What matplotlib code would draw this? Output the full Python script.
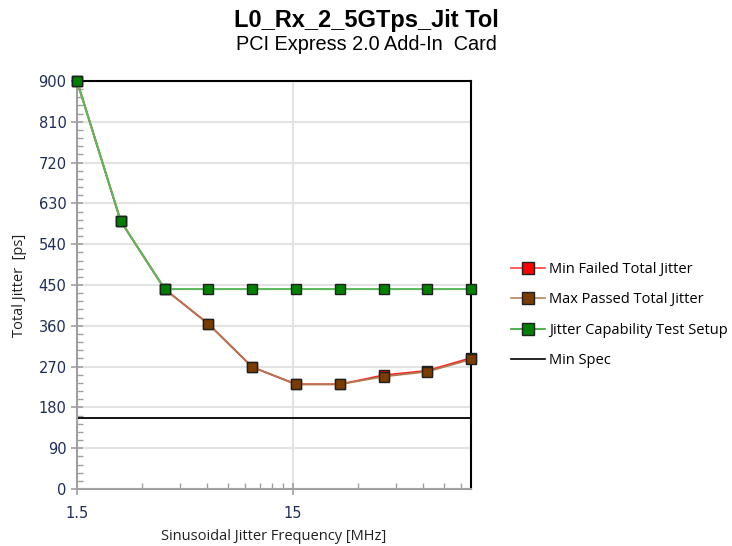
import matplotlib
matplotlib.use("Agg")
import matplotlib.pyplot as plt
from matplotlib.ticker import FixedLocator, NullFormatter, FixedFormatter
from matplotlib.lines import Line2D

freq = [1.5, 2.39, 3.82, 6.09, 9.71, 15.5, 24.7, 39.4, 62.8, 100]
min_failed = [900, 591, 441, 364, 269, 231, 231, 251, 261, 289]
max_passed = [900, 591, 441, 364, 269, 231, 231, 248, 259, 286]
capability = [900, 591, 441, 441, 441, 441, 441, 441, 441, 441]
min_spec = 156

series_names = ["Min Failed Total Jitter", "Max Passed Total Jitter",
                "Jitter Capability Test Setup", "Min Spec"]
title = "L0_Rx_2_5GTps_Jit Tol"
subtitle = "PCI Express 2.0 Add-In  Card"
xlabel = "Sinusoidal Jitter Frequency [MHz]"
ylabel = "Total Jitter  [ps]"
yticks = [0, 90, 180, 270, 360, 450, 540, 630, 720, 810, 900]
xticks = [1.5, 15]
xticklabels = ["1.5", "15"]

tickcol = "#1f2d5a"
spinecol = "#a0a0a0"
gridcol = "#e3e3e3"

fig = plt.figure(figsize=(7.32, 5.46), dpi=100)
ax = fig.add_axes([77/732, 1-489/546, (471-77)/732, (489-81)/546])

ax.set_xscale("log")
ax.set_xlim(1.5, 100)
ax.set_ylim(0, 900)

ms = 7.5
ax.plot(freq, min_failed, color="#ff2020", lw=1.3, marker="s", ms=ms,
        mfc="#ff0000", mec="#202020", mew=1.0, zorder=3, clip_on=False)
ax.plot(freq, max_passed, color="#b07850", lw=1.3, marker="s", ms=ms,
        mfc="#7a3c00", mec="#202020", mew=1.0, zorder=4, clip_on=False)
ax.plot(freq, capability, color="#5cb85c", lw=1.5, marker="s", ms=ms,
        mfc="#008000", mec="#202020", mew=1.0, zorder=5, clip_on=False)
ax.axhline(min_spec, color="black", lw=1.3, zorder=2)

ax.xaxis.set_major_locator(FixedLocator(xticks))
ax.xaxis.set_major_formatter(FixedFormatter(xticklabels))
minors = [1.5*k for k in range(2, 10)] + [15*k for k in range(2, 7)]
ax.xaxis.set_minor_locator(FixedLocator(minors))
ax.xaxis.set_minor_formatter(NullFormatter())
ax.set_yticks(yticks)
ax.yaxis.set_minor_locator(FixedLocator([v for v in range(0, 901, 18) if v % 90 != 0]))

ax.grid(True, which="major", color=gridcol, lw=1.5, zorder=0)
ax.set_axisbelow(True)

for s in ["left", "bottom"]:
    ax.spines[s].set_color(spinecol)
    ax.spines[s].set_linewidth(1.5)
for s in ["top", "right"]:
    ax.spines[s].set_color("black")
    ax.spines[s].set_linewidth(1.5)

ax.tick_params(axis="both", which="major", direction="inout", length=8,
               color=spinecol, width=1.2, labelsize=10.5, labelcolor=tickcol)
ax.tick_params(axis="both", which="minor", direction="in", length=4,
               color=spinecol, width=1.0)
ax.tick_params(axis="x", which="major", pad=8)
for lab in ax.get_xticklabels() + ax.get_yticklabels():
    lab.set_fontfamily("DejaVu Sans")

ax.set_xlabel(xlabel, fontsize=10.5, family="Open Sans", color="#202020", labelpad=6)
ax.set_ylabel(ylabel, fontsize=10.5, family="Open Sans", color="#202020", labelpad=8)

fig.text(0.5, 1-20/546, title, ha="center", va="center", fontsize=17,
         fontweight="bold", family="Liberation Sans")
fig.text(0.5, 1-45/546, subtitle, ha="center", va="center", fontsize=14.3,
         family="Liberation Sans")

handles = [
    Line2D([], [], color="#ff4040", lw=1.2, marker="s", ms=8, mfc="#ff0000", mec="#202020"),
    Line2D([], [], color="#b08860", lw=1.2, marker="s", ms=8, mfc="#7a3c00", mec="#202020"),
    Line2D([], [], color="#30a030", lw=1.2, marker="s", ms=8, mfc="#008000", mec="#202020"),
    Line2D([], [], color="black", lw=1.2),
]
fig.legend(handles, series_names, loc="upper left", bbox_to_anchor=(498/732, 1-249/546),
           frameon=False, labelspacing=1.05, handlelength=2.3,
           handletextpad=0.3, prop={"family": "Open Sans", "size": 10.5})

fig.savefig("out.png", dpi=100)
